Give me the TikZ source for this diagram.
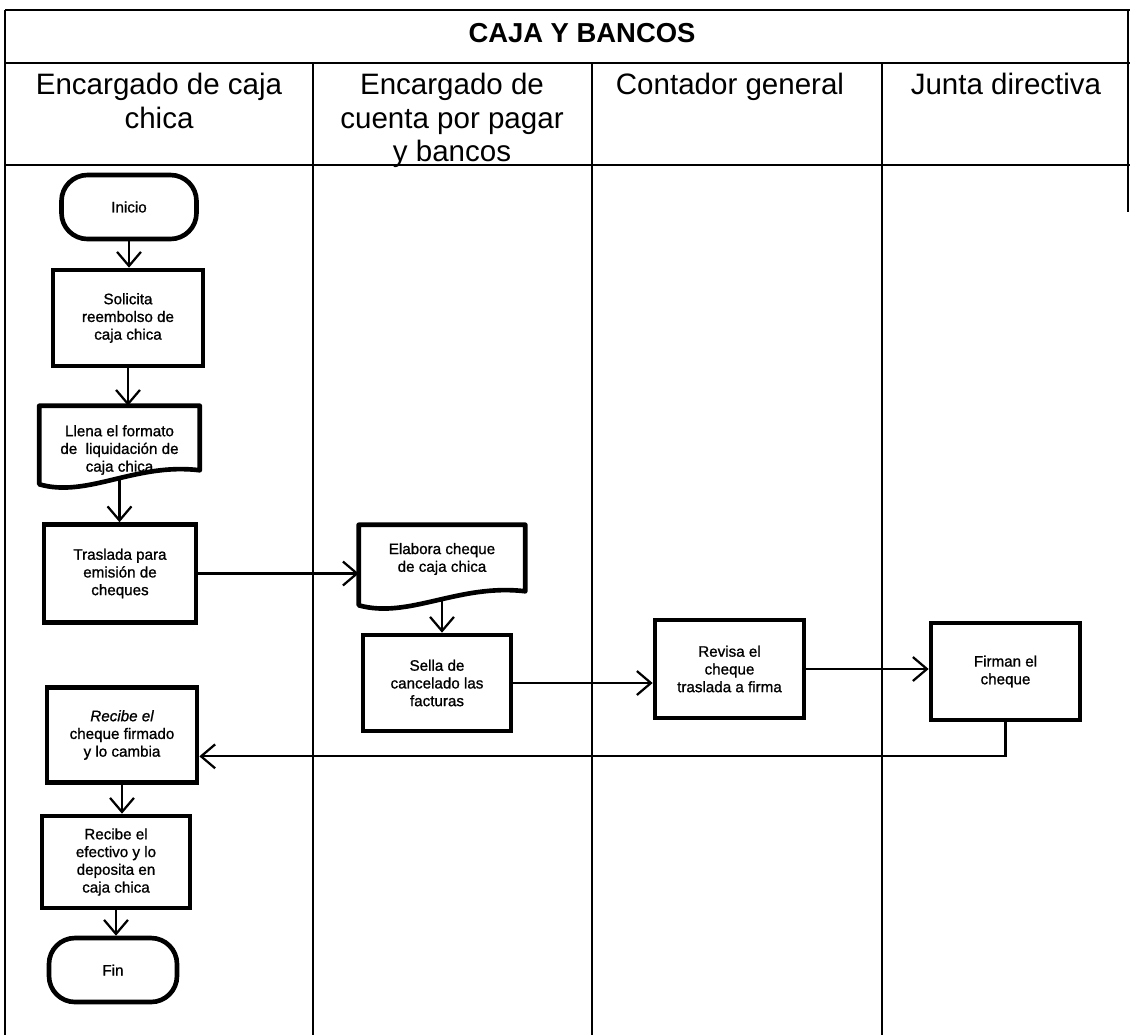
\documentclass[tikz,border=0pt]{standalone}
\usepackage{fontspec}
\setmainfont{Liberation Sans}
\newfontfamily\boxfont[FakeBold=1]{Liberation Sans}
\usetikzlibrary{arrows.meta,calc}
\newlength\pxu
\setlength\pxu{0.025cm}

% outline of a "document" symbol drawn around a bare node: flat top, wavy bottom
\newcommand\docoutline[1]{%
  \fill[white] ($(#1.south east)+(0,-14)$)
    .. controls ($(#1.south west)!0.6!(#1.south east)+(0,-22)$) and ($(#1.south west)!0.3!(#1.south east)+(0,14)$) .. (#1.south west)
    -- ($(#1.south west)+(0,22)$) -- ($(#1.south east)+(0,22)$) -- cycle;
  \draw[docline] (#1.south west) -- (#1.north west) -- (#1.north east) -- ($(#1.south east)+(0,-14)$)
    .. controls ($(#1.south west)!0.6!(#1.south east)+(0,-22)$) and ($(#1.south west)!0.3!(#1.south east)+(0,14)$) .. (#1.south west) -- cycle;
}

\begin{document}
\begin{tikzpicture}[x=0.025cm,y=-0.025cm,
  frameline/.style={line width=1.7pt},
  laneline/.style={line width=1.1pt},
  boxtext/.style={align=center, font=\boxfont\fontsize{10.8}{12.6}\selectfont},
  stepbox/.style={boxtext, draw, rectangle, line width=3.3pt, inner sep=2pt},
  termbox/.style={stepbox, rounded corners=26\pxu},
  docframe/.style={rectangle, inner sep=0pt},
  docline/.style={line width=3.3pt, line join=round},
  doctext/.style={boxtext, inner sep=0pt},
  lanehead/.style={font=\fontsize{21}{23.8}\selectfont, align=center, anchor=north, inner sep=0pt},
  flow/.style={line width=1.6pt, -{Straight Barb[length=10pt,width=17pt]}}
]
\useasboundingbox (0,0) rectangle (1130,1035);

% table frame and swimlanes
\draw[frameline] (5,10) -- (1130,10);
\draw[frameline] (5,63) -- (1130,63);
\draw[frameline] (5,165) -- (1130,165);
\draw[laneline] (5,10) -- (5,1035);
\draw[laneline] (1128,10) -- (1128,212);
\foreach \lx in {313,592,882} \draw[laneline] (\lx,63) -- (\lx,1035);

% title and lane headers
\node[font=\bfseries\fontsize{19.5}{22}\selectfont] (title) at (582,33) {CAJA Y BANCOS};
\node[lanehead] (h1) at (159,73) {Encargado de caja\\chica};
\node[lanehead] (h2) at (452,73) {Encargado de\\cuenta por pagar\\y bancos};
\node[lanehead] (h3) at (730,73) {Contador general};
\node[lanehead] (h4) at (1006,73) {Junta directiva};

% lane 1
\node[termbox, minimum width=135\pxu, minimum height=64\pxu] (inicio) at (129,207) {Inicio};
\node[stepbox, minimum width=150\pxu, minimum height=96\pxu] (solicita) at (128,318) {Solicita\\reembolso de\\caja chica};

\node[doctext] (llenatxt) at (119.5,450) {Llena el formato\\de\ \ liquidación de\\caja chica};
\node[docframe, minimum width=160\pxu, minimum height=78\pxu] (llena) at (119.5,445) {};
\docoutline{llena}
\coordinate (llenaout) at ($(llena.south)+(0,-4.5)$);

\node[stepbox, minimum width=152\pxu, minimum height=98\pxu] (traslada) at (120,573.5) {Traslada para\\emisión de\\cheques};

\node[stepbox, minimum width=150\pxu, minimum height=95\pxu] (recibe) at (122,735) {{\itshape Recibe el}\\cheque firmado\\y lo cambia};
\node[stepbox, minimum width=148\pxu, minimum height=92\pxu] (efectivo) at (116,862) {Recibe el\\efectivo y lo\\deposita en\\caja chica};
\node[termbox, minimum width=128\pxu, minimum height=64\pxu] (fin) at (113,970) {Fin};

% lane 2
\node[doctext] (elaboratxt) at (442,559) {Elabora cheque\\de caja chica};
\node[docframe, minimum width=166\pxu, minimum height=80\pxu] (elabora) at (442,565) {};
\docoutline{elabora}
\coordinate (elaboraout) at ($(elabora.south)+(0,-4.5)$);

\node[stepbox, minimum width=148\pxu, minimum height=96\pxu] (sella) at (437,683) {Sella de\\cancelado las\\facturas};

% lane 3
\node[stepbox, minimum width=149\pxu, minimum height=98\pxu] (revisa) at (729.5,669) {Revisa el\\cheque\\traslada a firma};

% lane 4
\node[stepbox, minimum width=149\pxu, minimum height=97\pxu] (firman) at (1005.5,671.5) {Firman el\\cheque};

% connectors
\draw[flow] (inicio.south) -- (inicio.south |- solicita.north);
\draw[flow] (solicita.south) -- (solicita.south |- llena.north);
\draw[flow] (llenaout) -- (llenaout |- traslada.north);
\draw[flow] (traslada.east) -- (traslada.east -| elabora.west);
\draw[flow] (elaboraout) -- (elaboraout |- sella.north);
\draw[flow] (sella.east) -- (sella.east -| revisa.west);
\draw[flow] (revisa.east) -- (revisa.east -| firman.west);
\coordinate (fbturn) at ($(firman.south)+(0,34)$);
\draw[flow] (firman.south) -- (fbturn) -- (fbturn -| recibe.east);
\draw[flow] (recibe.south) -- (recibe.south |- efectivo.north);
\draw[flow] (efectivo.south) -- (efectivo.south |- fin.north);
\end{tikzpicture}
\end{document}
